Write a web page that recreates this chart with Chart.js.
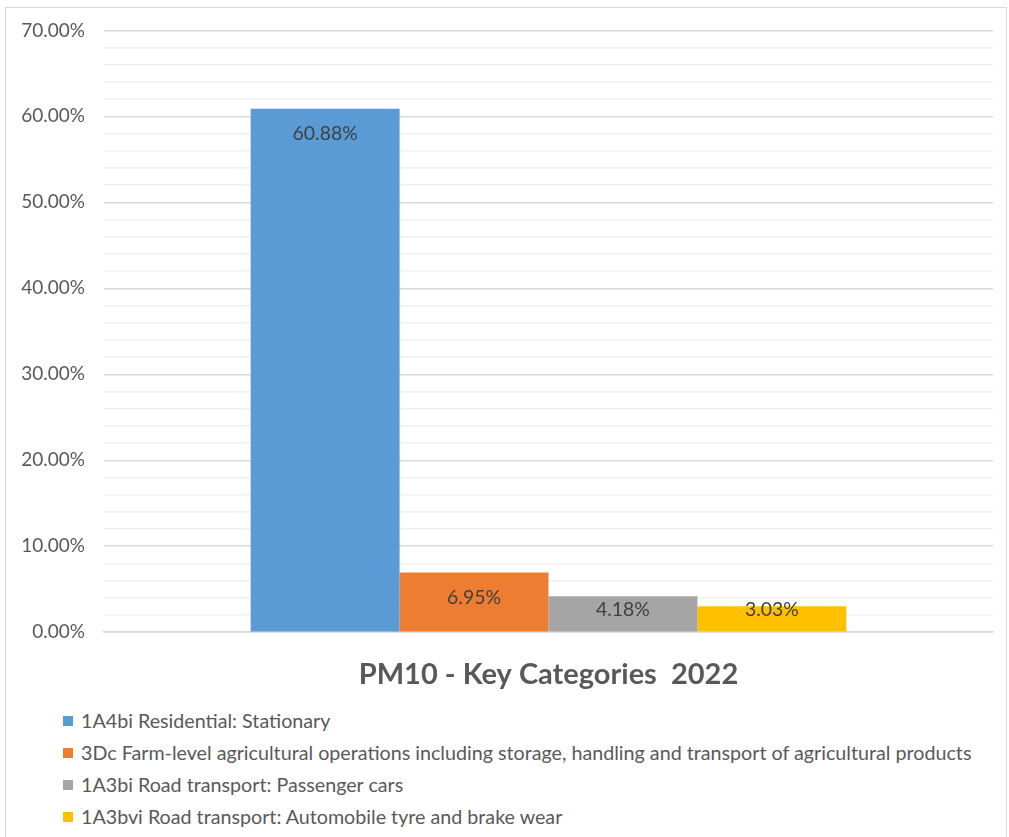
<!DOCTYPE html>
<html>
<head>
<meta charset="utf-8">
<script src="https://cdn.jsdelivr.net/npm/chart.js@4"></script>
<style>
  html, body { margin: 0; padding: 0; background: #fff; }
  body { width: 1009px; height: 837px; position: relative; overflow: hidden; font-family: Lato, "Open Sans", sans-serif; }
  #frame { position: absolute; left: 5px; top: 7px; width: 1002px; height: 840px; border: 1px solid #d9d9d9; box-sizing: border-box; }
  #c { position: absolute; left: 0; top: 0; }
  #legend { position: absolute; left: 63px; top: 705px; margin: 0; padding: 0; list-style: none; color: #595959; font-size: 19.7px; }
  #legend li { height: 32px; line-height: 24px; white-space: nowrap; display: flex; align-items: center; }
  #legend li span.box { display: inline-block; width: 10px; height: 10px; margin-right: 8px; }
</style>
</head>
<body>
<div id="frame"></div>
<canvas id="c" width="1009" height="700"></canvas>
<ul id="legend"></ul>
<script>
const seriesNames = [
  '1A4bi Residential: Stationary',
  '3Dc Farm-level agricultural operations including storage, handling and transport of agricultural products',
  '1A3bi Road transport: Passenger cars',
  '1A3bvi Road transport: Automobile tyre and brake wear'
];
const seriesValues = [60.88, 6.95, 4.18, 3.03];
const seriesColors = ['#5b9bd5', '#ed7d31', '#a5a5a5', '#ffc000'];
const categories = [''];
const chartTitle = 'PM10 - Key Categories  2022';
const yMax = 70;
const yStep = 2;
const yLabelStep = 10;

const FONT = 'Lato, "Open Sans", sans-serif';

const labelPlugin = {
  id: 'barLabels',
  afterDatasetsDraw(chart) {
    const ctx = chart.ctx;
    ctx.save();
    ctx.font = '19.4px ' + FONT;
    ctx.fillStyle = '#404040';
    ctx.textAlign = 'center';
    ctx.textBaseline = 'middle';
    chart.data.datasets.forEach((ds, i) => {
      const meta = chart.getDatasetMeta(i);
      meta.data.forEach((bar, j) => {
        const v = ds.data[j];
        const y = Math.min(bar.y + 25, bar.base - 22);
        ctx.fillText(v.toFixed(2) + '%', bar.x, y);
      });
    });
    ctx.restore();
  }
};

const chart = new Chart(document.getElementById('c'), {
  type: 'bar',
  data: {
    labels: categories,
    datasets: seriesNames.map((name, i) => ({
      label: name,
      data: [seriesValues[i]],
      backgroundColor: seriesColors[i],
      borderWidth: 0,
      categoryPercentage: 0.67,
      barPercentage: 1.0
    }))
  },
  options: {
    responsive: false,
    animation: false,
    layout: { padding: { left: 17, right: 16, top: 18, bottom: 0 } },
    plugins: {
      legend: { display: false },
      tooltip: { enabled: false },
      title: {
        display: true,
        text: chartTitle,
        position: 'bottom',
        fullSize: false,
        color: '#595959',
        font: { family: FONT, size: 29, weight: 'bold' },
        padding: { top: 25, bottom: 8 }
      }
    },
    scales: {
      x: {
        ticks: { display: false },
        grid: { display: false, drawTicks: false },
        border: { display: true, color: '#d9d9d9', width: 1.5 }
      },
      y: {
        min: 0,
        max: yMax,
        afterFit(scale) { scale.width = 87; },
        ticks: {
          stepSize: yStep,
          autoSkip: false,
          color: '#595959',
          font: { family: FONT, size: 19 },
          padding: 19,
          callback: (v) => (v % yLabelStep === 0 ? v.toFixed(2) + '%' : '')
        },
        grid: {
          drawTicks: false,
          lineWidth: 1.5,
          color: (c) => (c.tick && c.tick.value % yLabelStep === 0 ? '#d9d9d9' : '#f0f0f0')
        },
        border: { display: false }
      }
    }
  },
  plugins: [labelPlugin]
});

const legendEl = document.getElementById('legend');
seriesNames.forEach((name, i) => {
  const li = document.createElement('li');
  const box = document.createElement('span');
  box.className = 'box';
  box.style.background = seriesColors[i];
  li.appendChild(box);
  li.appendChild(document.createTextNode(name));
  legendEl.appendChild(li);
});
</script>
</body>
</html>
